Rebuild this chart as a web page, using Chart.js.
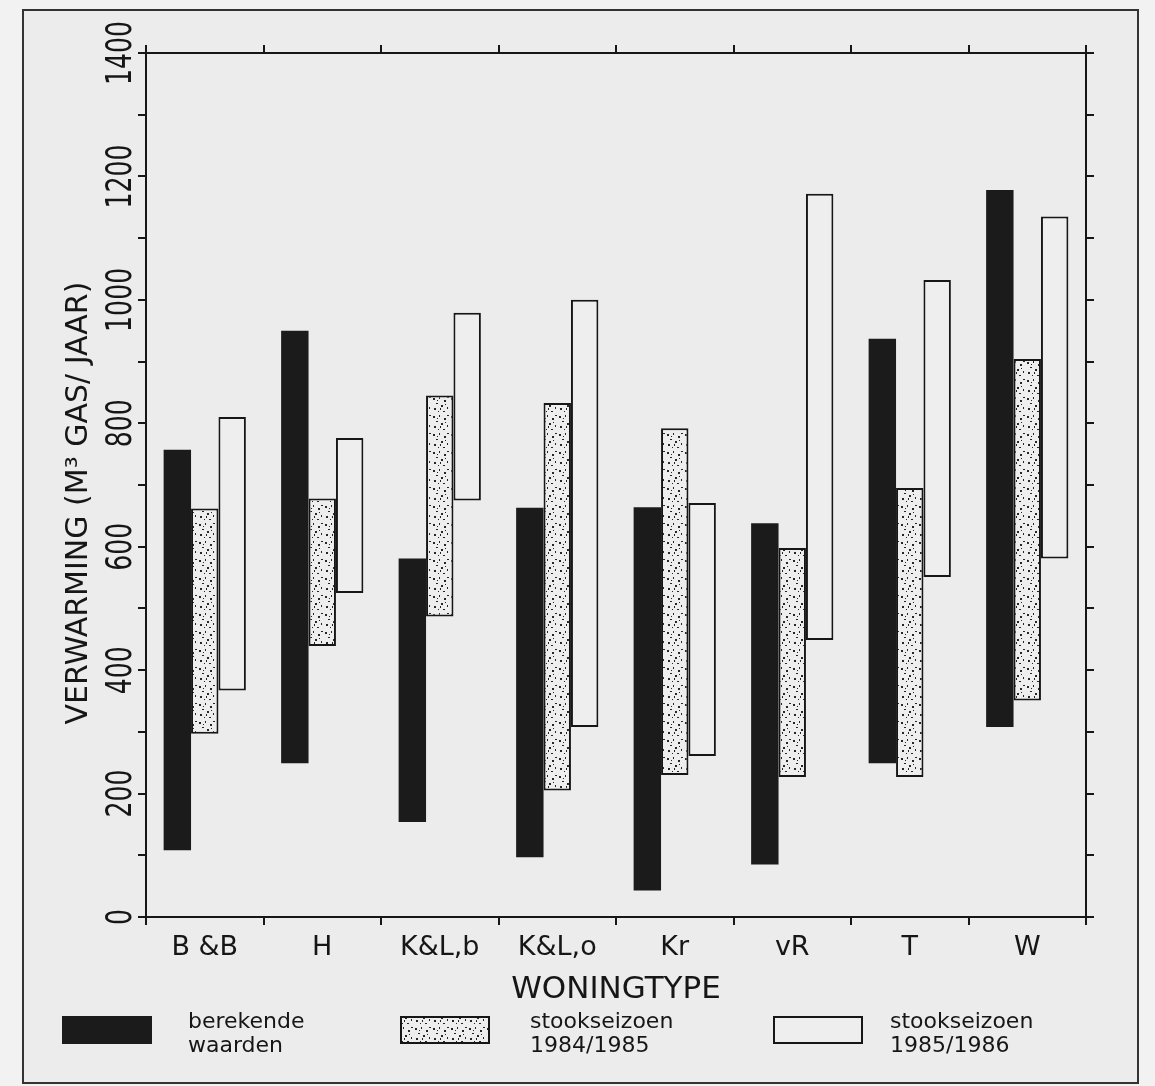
<!DOCTYPE html>
<html>
<head>
<meta charset="utf-8">
<title>Verwarming per woningtype</title>
<script src="https://cdn.jsdelivr.net/npm/chart.js@4.4.1/dist/chart.umd.min.js"></script>
<style>
  html, body { margin: 0; padding: 0; background: #f2f2f2; }
  canvas { display: block; }
</style>
</head>
<body>
<canvas id="verwarming" width="1155" height="1086"></canvas>
<script>
// woningtypes en gasverbruik (m3 gas / jaar), van - tot
var woningtypes = ['B &B', 'H', 'K&L,b', 'K&L,o', 'Kr', 'vR', 'T', 'W'];
var berekendVan = [108, 249, 154, 97, 43, 85, 249, 308];
var berekendTot = [757, 950, 581, 663, 664, 638, 937, 1178];
var seizoen8485Van = [297, 439, 487, 205, 230, 227, 227, 351];
var seizoen8485Tot = [662, 678, 845, 833, 792, 598, 695, 904];
var seizoen8586Van = [367, 525, 675, 308, 261, 449, 551, 581];
var seizoen8586Tot = [810, 776, 979, 1000, 671, 1172, 1032, 1135];
var yLabels = [0, 200, 400, 600, 800, 1000, 1200, 1400];
var yTitel = 'VERWARMING (M\u00b3 GAS/ JAAR)';
var legendaTekst = [['berekende', 'waarden'], ['stookseizoen', '1984/1985'], ['stookseizoen', '1985/1986']];

var smal = "'DejaVu Sans Condensed', 'Liberation Sans Narrow', sans-serif";
var breed = "'DejaVu Sans', 'Liberation Sans', sans-serif";
var inkt = '#161616';

function bereik(van, tot) {
  return van.map(function (v, i) { return [v, tot[i]]; });
}

// gestippeld raster voor stookseizoen 1984/1985
function stippen() {
  var c = document.createElement('canvas');
  c.width = 18; c.height = 18;
  var g = c.getContext('2d');
  g.fillStyle = '#eeeeee';
  g.fillRect(0, 0, 18, 18);
  g.fillStyle = '#262626';
  [[1,2,2,2],[7,1,1,2],[12,4,2,2],[4,7,2,1],[9,9,2,2],[15,11,1,2],[2,12,2,2],[6,15,1,1],
   [11,15,2,1],[5,4,1,1],[15,1,2,1],[13,8,1,1],[8,12,1,2]].forEach(function (d) {
    g.fillRect(d[0], d[1], d[2], d[3]);
  });
  return g.createPattern(c, 'repeat');
}

var kader = {
  id: 'kader',
  beforeDraw: function (chart) {
    var c = chart.ctx;
    c.save();
    c.fillStyle = '#ececec';
    c.fillRect(23, 10, 1115, 1073);
    c.strokeStyle = '#333';
    c.lineWidth = 2;
    c.strokeRect(23, 10, 1115, 1073);
    c.restore();
  },
  afterDraw: function (chart) {
    var c = chart.ctx;
    var y = chart.scales.y;
    c.save();
    c.fillStyle = inkt;
    c.textAlign = 'center';
    c.textBaseline = 'middle';

    // y-as: staande labels en titel
    c.font = '35px ' + smal;
    yLabels.forEach(function (v) {
      c.save();
      c.translate(122, y.getPixelForValue(v));
      c.rotate(-Math.PI / 2);
      c.scale(0.8, 1);
      c.fillText(String(v), 0, 0);
      c.restore();
    });
    c.save();
    c.font = '30px ' + breed;
    c.translate(79, (y.top + y.bottom) / 2 + 18);
    c.rotate(-Math.PI / 2);
    c.fillText(yTitel, 0, 0);
    c.restore();

    // legenda
    var vakX = [62, 400, 773];
    var tekstX = [188, 530, 890];
    c.font = '22px ' + breed;
    c.textAlign = 'left';
    c.textBaseline = 'alphabetic';
    chart.data.datasets.forEach(function (ds, i) {
      c.fillStyle = ds.backgroundColor;
      c.fillRect(vakX[i], 1016, 90, 28);
      if (ds.borderWidth) {
        c.strokeStyle = ds.borderColor;
        c.lineWidth = ds.borderWidth;
        c.strokeRect(vakX[i] + 1, 1017, 88, 26);
      }
      c.fillStyle = inkt;
      legendaTekst[i].forEach(function (regel, j) {
        c.fillText(regel, tekstX[i], 1028 + j * 24);
      });
    });
    c.restore();
  }
};

var ctx = document.getElementById('verwarming').getContext('2d');
var grafiek = new Chart(ctx, {
  type: 'bar',
  data: {
    labels: woningtypes,
    datasets: [{
      label: legendaTekst[0].join(' '),
      data: bereik(berekendVan, berekendTot),
      backgroundColor: '#1b1b1b',
      borderColor: '#1b1b1b',
      borderWidth: 0,
      borderSkipped: false
    }, {
      label: legendaTekst[1].join(' '),
      data: bereik(seizoen8485Van, seizoen8485Tot),
      backgroundColor: stippen(),
      borderColor: inkt,
      borderWidth: 2,
      borderSkipped: false
    }, {
      label: legendaTekst[2].join(' '),
      data: bereik(seizoen8586Van, seizoen8586Tot),
      backgroundColor: '#eeeeee',
      borderColor: inkt,
      borderWidth: 2,
      borderSkipped: false
    }]
  },
  options: {
    responsive: false,
    animation: false,
    datasets: { bar: { categoryPercentage: 0.7, barPercentage: 1.0 } },
    layout: { padding: 0 },
    plugins: { legend: { display: false }, tooltip: { enabled: false } },
    scales: {
      x: {
        position: 'bottom',
        offset: true,
        grid: { offset: true, drawOnChartArea: false, tickLength: 8, color: inkt, lineWidth: 2 },
        border: { color: inkt, width: 2 },
        ticks: { color: inkt, font: { family: breed, size: 27 }, padding: 7, autoSkip: false, maxRotation: 0 },
        title: { display: true, text: 'WONINGTYPE', color: inkt, font: { family: breed, size: 31 }, padding: { bottom: 77 } },
        afterFit: function (s) { s.height = 169; }
      },
      x2: {
        type: 'category',
        position: 'top',
        offset: true,
        grid: { offset: true, drawOnChartArea: false, tickLength: 8, color: inkt, lineWidth: 2 },
        border: { color: inkt, width: 2 },
        ticks: { display: false },
        afterFit: function (s) { s.height = 53; }
      },
      y: {
        position: 'left',
        min: 0,
        max: 1400,
        ticks: { stepSize: 100, display: false },
        grid: { drawOnChartArea: false, tickLength: 8, color: inkt, lineWidth: 2 },
        border: { color: inkt, width: 2 },
        afterFit: function (s) { s.width = 146; }
      },
      y2: {
        position: 'right',
        min: 0,
        max: 1400,
        ticks: { stepSize: 100, display: false },
        grid: { drawOnChartArea: false, tickLength: 8, color: inkt, lineWidth: 2 },
        border: { color: inkt, width: 2 },
        afterFit: function (s) { s.width = 69; }
      }
    }
  },
  plugins: [kader]
});
</script>
</body>
</html>
